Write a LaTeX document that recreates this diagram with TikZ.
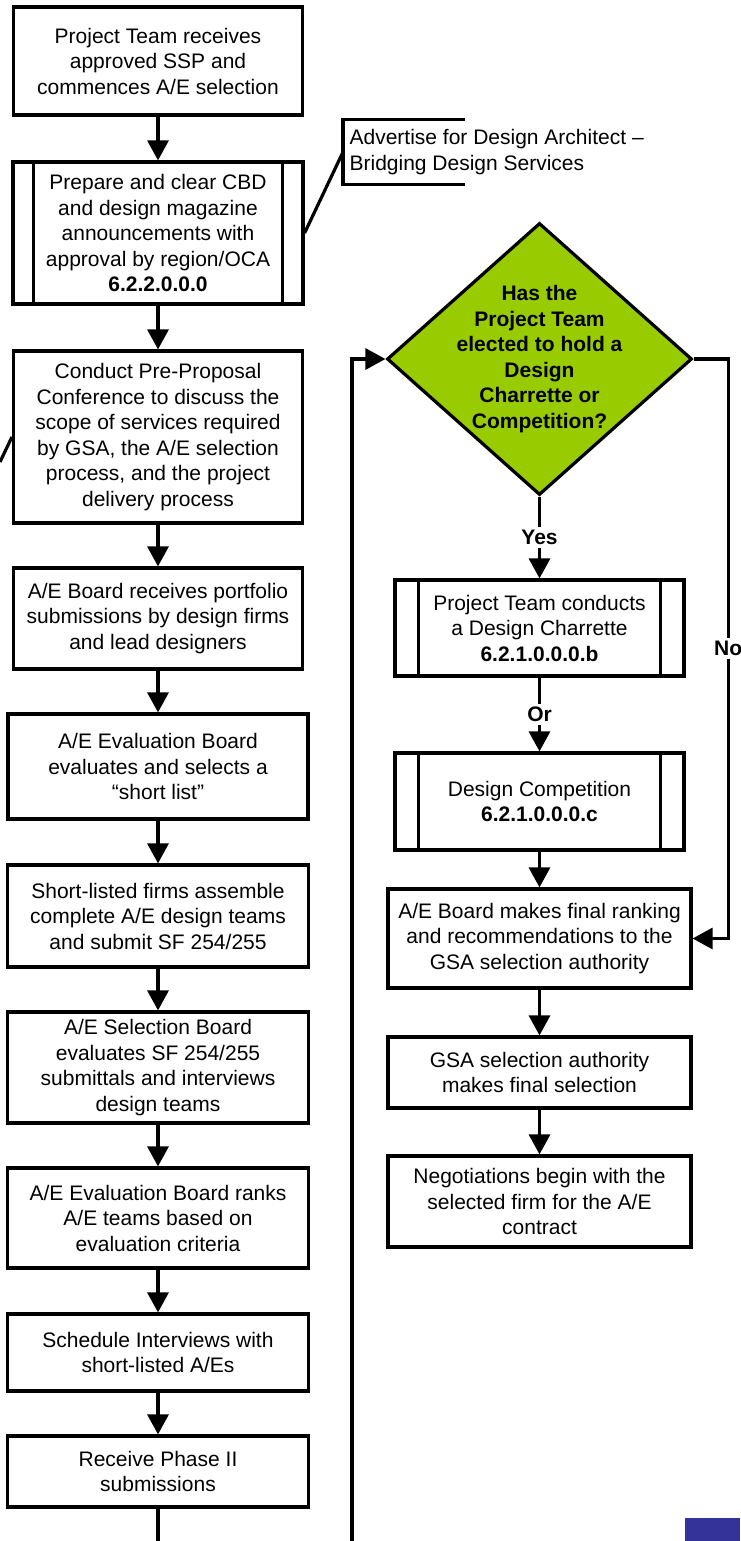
\documentclass[tikz,border=0pt]{standalone}
\usepackage{fontspec}
\setmainfont{Liberation Sans}
\usetikzlibrary{arrows.meta,shapes.geometric}
\definecolor{dgreen}{HTML}{99CC00}
\definecolor{cblue}{HTML}{333399}
\begin{document}
\begin{tikzpicture}[x=1pt,y=-1pt,line width=3.2pt,
  txt/.style={font=\fontsize{21}{25.5}\selectfont},
  box/.style={draw,rectangle,inner sep=0pt,align=center,txt},
  arr/.style={-{Triangle[length=20pt,width=21pt]}},
  lbl/.style={fill=white,inner sep=3pt,font=\fontsize{21}{25.5}\selectfont\bfseries}]
\useasboundingbox (0,0) rectangle (740,1541);
% left column
\node[box,minimum width=289pt,minimum height=108pt] (b1) at (158,61) {Project Team receives\\approved SSP and\\commences A/E selection};
\node[box,minimum width=290pt,minimum height=142pt] (b2) at (158,233) {Prepare and clear CBD\\and design magazine\\announcements with\\approval by region/OCA\\\textbf{6.2.2.0.0.0}};
\node[box,minimum width=289pt,minimum height=172pt] (b3) at (158,437) {Conduct Pre-Proposal\\Conference to discuss the\\scope of services required\\by GSA, the A/E selection\\process, and the project\\delivery process};
\node[box,minimum width=289pt,minimum height=101pt] (b4) at (158,618.5) {A/E Board receives portfolio\\submissions by design firms\\and lead designers};
\node[box,minimum width=300pt,minimum height=105pt] (b5) at (158,766.5) {A/E Evaluation Board\\evaluates and selects a\\“short list”};
\node[box,minimum width=301pt,minimum height=102pt] (b6) at (158,916) {Short-listed firms assemble\\complete A/E design teams\\and submit SF 254/255};
\node[box,minimum width=301pt,minimum height=111pt] (b7) at (158,1067.5) {A/E Selection Board\\evaluates SF 254/255\\submittals and interviews\\design teams};
\node[box,minimum width=301pt,minimum height=100pt] (b8) at (158,1218) {A/E Evaluation Board ranks\\A/E teams based on\\evaluation criteria};
\node[box,minimum width=301pt,minimum height=77pt] (b9) at (158,1352.5) {Schedule Interviews with\\short-listed A/Es};
\node[box,minimum width=301pt,minimum height=71pt] (b10) at (158,1471.5) {Receive Phase II\\submissions};
% annotation
\node[txt,anchor=west,align=left,inner xsep=5pt,inner ysep=0pt,minimum height=62pt] (ann) at (343,152) {Advertise for Design Architect –\\Bridging Design Services};
\draw ([xshift=122pt]ann.north west) -- (ann.north west) -- (ann.south west) -- ([xshift=122pt]ann.south west);
\draw (b2.east) -- (ann.west);
\coordinate (offl) at (0,462);
\draw (offl) -- (b3.west);
% right column
\node[draw,diamond,fill=dgreen,inner sep=0pt,minimum width=305pt,minimum height=272pt] (d) at (539.5,359) {};
\node[align=center,font=\fontsize{21}{25.5}\selectfont\bfseries] (dt) at (d.center) {Has the\\Project Team\\elected to hold a\\Design\\Charrette or\\Competition?};
\node[box,minimum width=289pt,minimum height=96pt] (c1) at (539.5,628) {Project Team conducts\\a Design Charrette\\\textbf{6.2.1.0.0.0.b}};
\node[box,minimum width=289pt,minimum height=97pt] (c2) at (539.5,801.5) {Design Competition\\\textbf{6.2.1.0.0.0.c}};
\node[box,minimum width=303pt,minimum height=99pt] (r1) at (539.5,938.5) {A/E Board makes final ranking\\and recommendations to the\\GSA selection authority};
\node[box,minimum width=303pt,minimum height=71pt] (r2) at (539.5,1072.5) {GSA selection authority\\makes final selection};
\node[box,minimum width=303pt,minimum height=91pt] (r3) at (539.5,1201.5) {Negotiations begin with the\\selected firm for the A/E\\contract};
% subprocess inner lines
\foreach \n/\i in {b2/22,c1/25,c2/25}{
  \draw ([xshift=\i pt]\n.north west) -- ([xshift=\i pt]\n.south west);
  \draw ([xshift=-\i pt]\n.north east) -- ([xshift=-\i pt]\n.south east);
}
% left connectors
\foreach \a/\b in {b1/b2,b2/b3,b3/b4,b4/b5,b5/b6,b6/b7,b7/b8,b8/b9,b9/b10}{
  \draw[arr] (\a.south) -- (\b.north);
}
\coordinate (bend) at (158,1541);
\draw (b10.south) -- (bend);
% loop from bottom to diamond
\coordinate (loopb) at (352,1541);
\draw[arr] (loopb) |- (d.west);
% yes / or
\draw[arr] (d.south) -- node[lbl]{Yes} (c1.north);
\draw[arr] (c1.south) -- node[lbl]{Or} (c2.north);
\draw[arr] (c2.south) -- (r1.north);
\draw[arr] (r1.south) -- (r2.north);
\draw[arr] (r2.south) -- (r3.north);
% no
\draw[arr] (d.east) -- ++(34.5,0) |- node[lbl,pos=0.25]{No} (r1.east);
% blue mark
\fill[cblue] (685,1518) rectangle (740,1541);
\end{tikzpicture}
\end{document}
